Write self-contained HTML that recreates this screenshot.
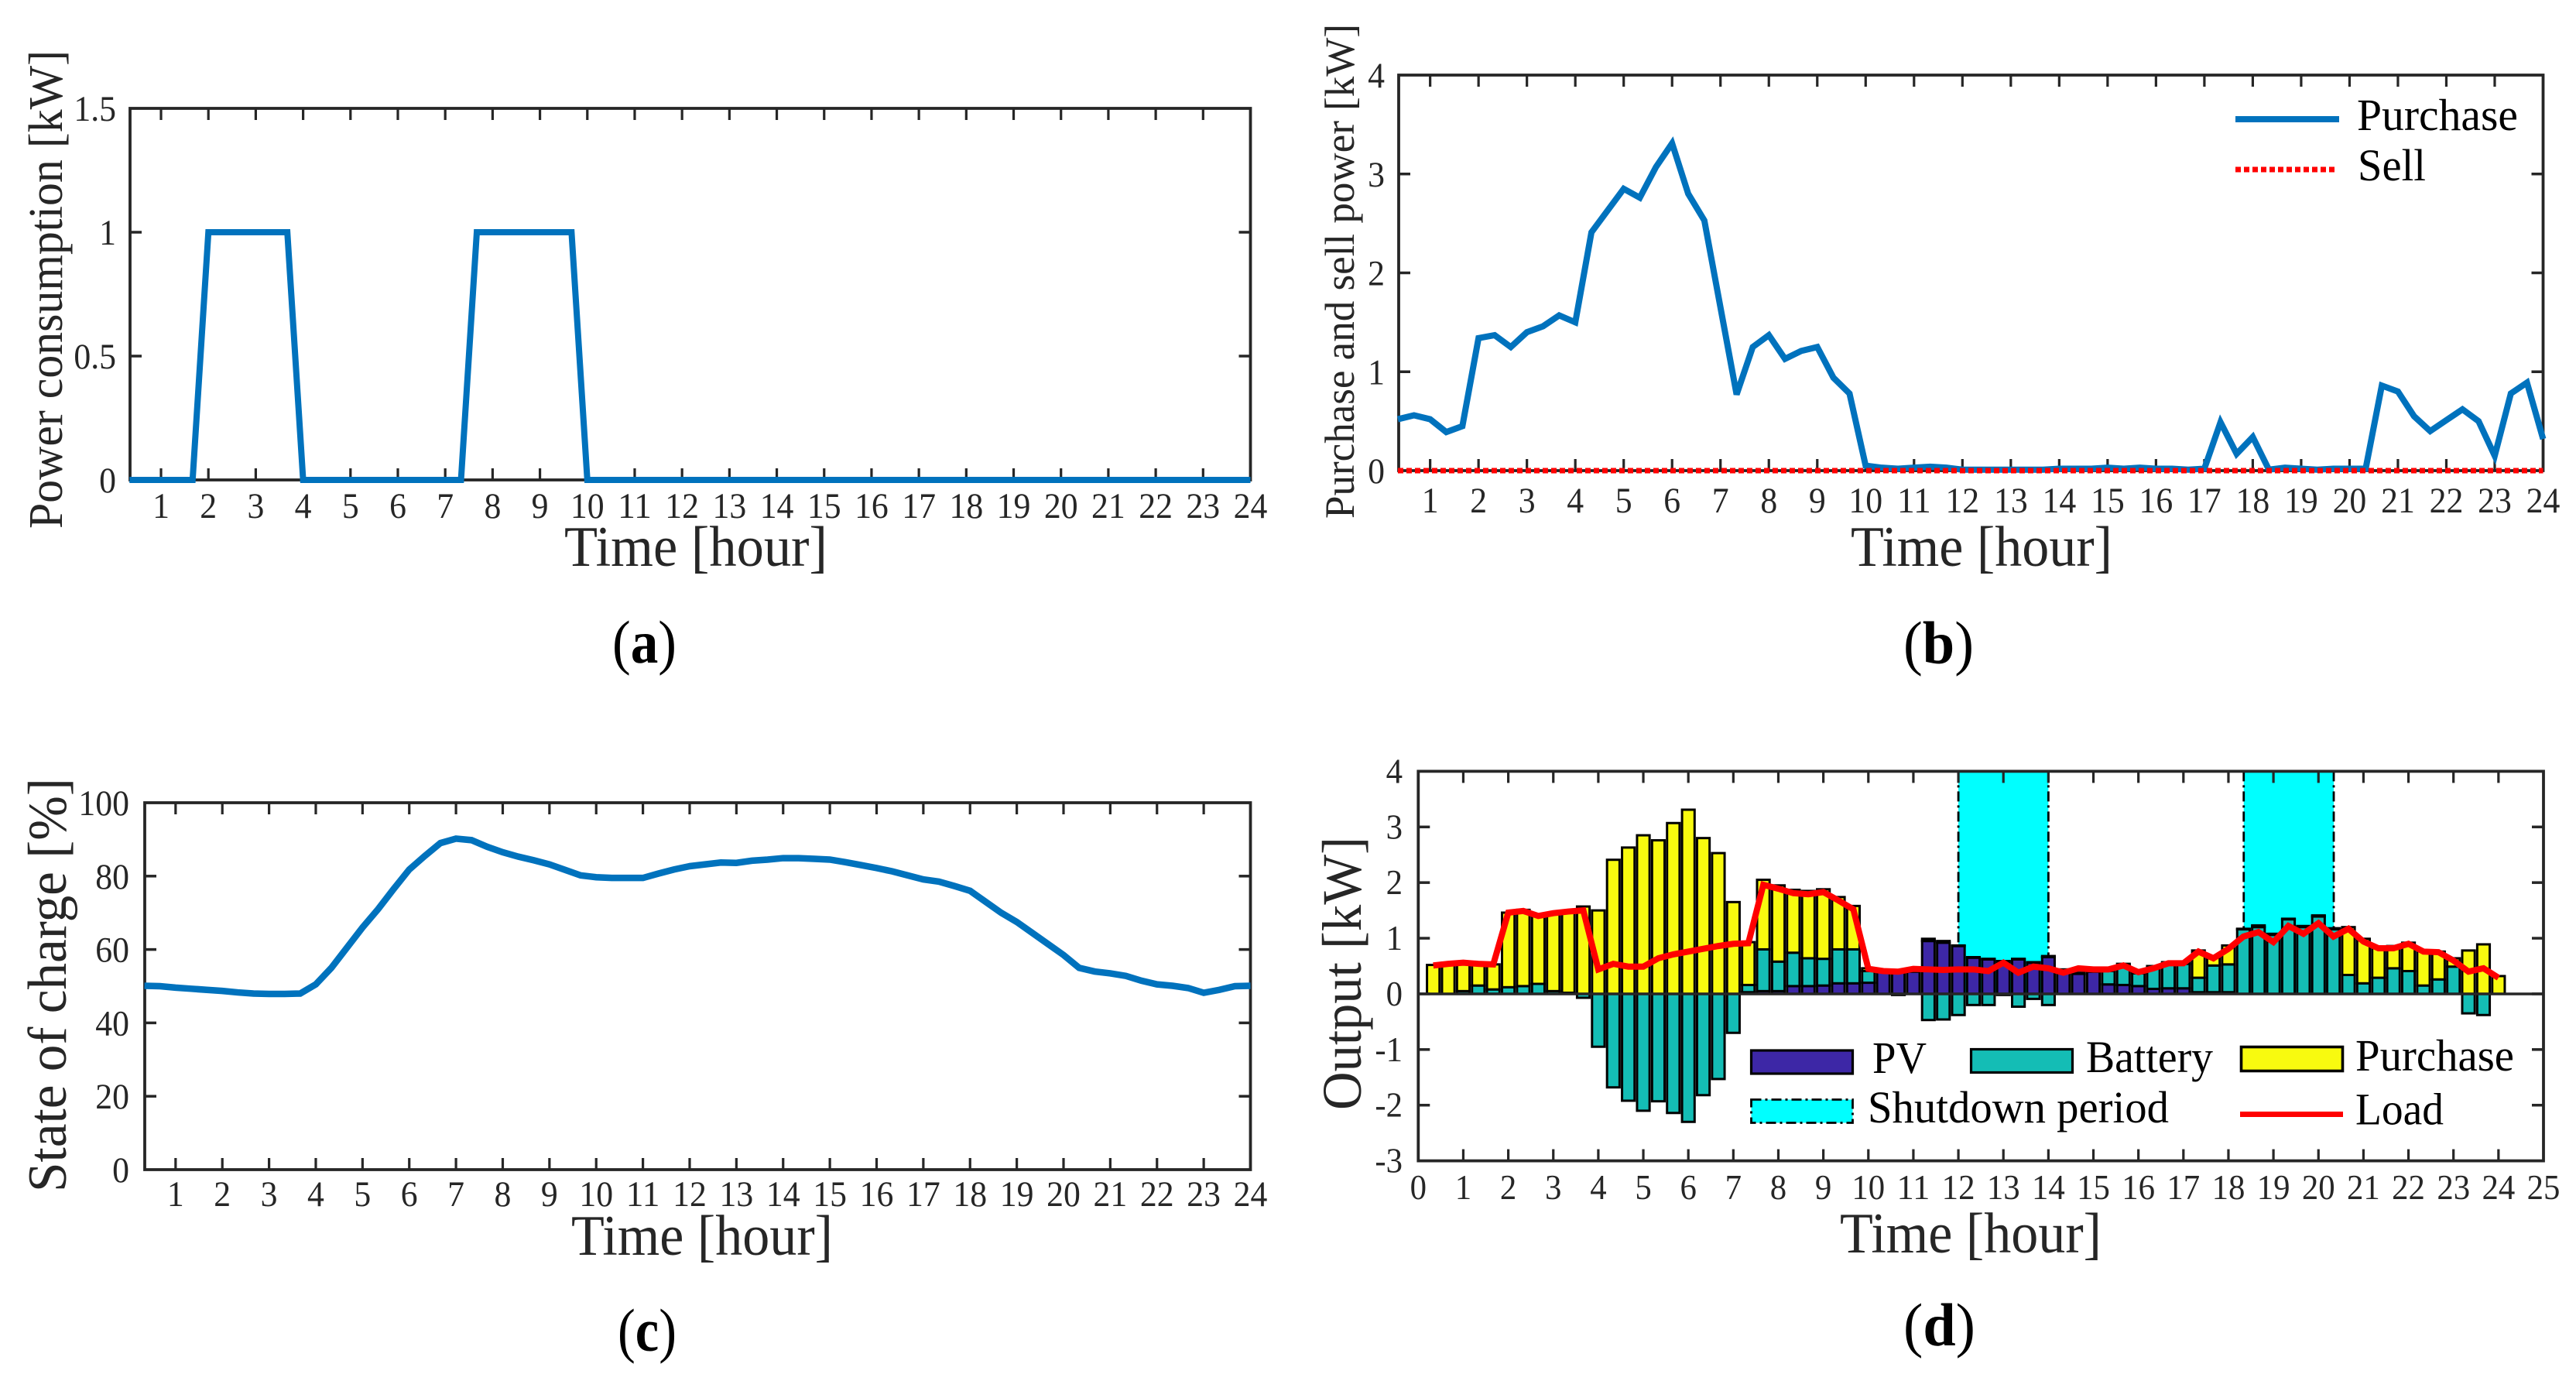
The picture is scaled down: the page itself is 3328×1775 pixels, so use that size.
<!DOCTYPE html>
<html lang="en">
<head>
<meta charset="utf-8">
<title>Household energy schedule charts</title>
<style>
html,body{margin:0;padding:0;background:#fff;width:3328px;height:1775px;overflow:hidden}
svg{display:block}
text{font-family:"Liberation Serif",serif;fill:#262626}
.lg{fill:#000;font-size:58px}
.ax{font-size:74px}
.cap{font-size:78px;fill:#000}
</style>
</head>
<body>
<svg id="fig" xmlns="http://www.w3.org/2000/svg" width="3328" height="1775" viewBox="0 0 3328 1775">
  <rect x="0" y="0" width="3328" height="1775" fill="#fff"/>
  <g id="panelA"></g>
  <g id="panelB"></g>
  <g id="panelC"></g>
  <g id="panelD"></g>

  <text font-size="62" transform="translate(80,683) rotate(-90)" textLength="618" lengthAdjust="spacingAndGlyphs">Power consumption [kW]</text>
  <text class="ax" x="729" y="731" textLength="340" lengthAdjust="spacingAndGlyphs">Time [hour]</text>
  <text class="cap" x="791" y="856" textLength="83" lengthAdjust="spacingAndGlyphs">(<tspan font-weight="bold">a</tspan>)</text>

  <text font-size="54" transform="translate(1749,670) rotate(-90)" textLength="639" lengthAdjust="spacingAndGlyphs">Purchase and sell power [kW]</text>
  <text class="ax" x="2391" y="731" textLength="338" lengthAdjust="spacingAndGlyphs">Time [hour]</text>
  <text class="cap" x="2459" y="857" textLength="91" lengthAdjust="spacingAndGlyphs">(<tspan font-weight="bold">b</tspan>)</text>

  <text font-size="71" transform="translate(85,1540) rotate(-90)" textLength="535" lengthAdjust="spacingAndGlyphs">State of charge [%]</text>
  <text class="ax" x="738" y="1621" textLength="338" lengthAdjust="spacingAndGlyphs">Time [hour]</text>
  <text class="cap" x="798" y="1745" textLength="76" lengthAdjust="spacingAndGlyphs">(<tspan font-weight="bold">c</tspan>)</text>

  <text font-size="72" transform="translate(1758,1434) rotate(-90)" textLength="353" lengthAdjust="spacingAndGlyphs">Output [kW]</text>
  <text class="ax" x="2377" y="1618" textLength="338" lengthAdjust="spacingAndGlyphs">Time [hour]</text>
  <text class="cap" x="2459" y="1738" textLength="93" lengthAdjust="spacingAndGlyphs">(<tspan font-weight="bold">d</tspan>)</text>

  <g>
    <line x1="2888" x2="3022" y1="154" y2="154" stroke="#0072BD" stroke-width="8"/>
    <text class="lg" x="3045" y="168" textLength="208" lengthAdjust="spacingAndGlyphs">Purchase</text>
    <line x1="2888" x2="3018" y1="219" y2="219" stroke="#f00" stroke-width="7" stroke-dasharray="7 4"/>
    <text class="lg" x="3046" y="233" textLength="88" lengthAdjust="spacingAndGlyphs">Sell</text>
  </g>

  <g>
    <rect x="2262.5" y="1357" width="131" height="30" fill="#3D27A6" stroke="#000" stroke-width="3.2"/>
    <text class="lg" x="2419" y="1386" textLength="70" lengthAdjust="spacingAndGlyphs">PV</text>
    <rect x="2546.5" y="1355.5" width="131" height="30" fill="#14BDB5" stroke="#000" stroke-width="3.2"/>
    <text class="lg" x="2695" y="1385" textLength="164" lengthAdjust="spacingAndGlyphs">Battery</text>
    <rect x="2895.5" y="1352.5" width="131" height="31" fill="#F8FA0F" stroke="#000" stroke-width="3.6"/>
    <text class="lg" x="3043" y="1383" textLength="205" lengthAdjust="spacingAndGlyphs">Purchase</text>
    <rect x="2262.5" y="1420.5" width="131" height="30" fill="#00FFFF" stroke="#000" stroke-width="2.8" stroke-dasharray="13 5 3 5"/>
    <text class="lg" x="2413" y="1450" textLength="389" lengthAdjust="spacingAndGlyphs">Shutdown period</text>
    <line x1="2894" x2="3027" y1="1439.5" y2="1439.5" stroke="#f00" stroke-width="7"/>
    <text class="lg" x="3043" y="1452.5" textLength="114" lengthAdjust="spacingAndGlyphs">Load</text>
  </g>
</svg>
<script>
const hourLabels = ["1","2","3","4","5","6","7","8","9","10","11","12","13","14","15","16","17","18","19","20","21","22","23","24"];
const hourLabelsD = ["0","1","2","3","4","5","6","7","8","9","10","11","12","13","14","15","16","17","18","19","20","21","22","23","24","25"];
const yTicksA = ["0","0.5","1","1.5"];
const yTicksB = ["0","1","2","3","4"];
const yTicksC = ["0","20","40","60","80","100"];
const yTicksD = ["-3","-2","-1","0","1","2","3","4"];

const powerKw = [0,0,0,0,0,1,1,1,1,1,1,0,0,0,0,0,0,0,0,0,0,0,1,1,1,1,1,1,1,0,0,0,0,0,0,0,0,0,0,0,0,0,0,0,0,0,0,0,0,0,0,0,0,0,0,0,0,0,0,0,0,0,0,0,0,0,0,0,0,0,0,0];
const purchaseKw = [.52,.56,.52,.39,.45,1.34,1.37,1.25,1.40,1.46,1.57,1.50,2.41,2.63,2.85,2.76,3.07,3.31,2.80,2.53,1.65,.77,1.25,1.37,1.13,1.21,1.25,.94,.78,.05,.03,.02,.03,.04,.03,.01,.01,.01,.01,.01,.01,.02,.02,.02,.03,.02,.03,.02,.02,.01,.02,.49,.17,.34,.01,.03,.02,.01,.02,.02,.02,.86,.80,.55,.40,.51,.62,.50,.15,.78,.89,.32];
const sellKw = [0,0,0,0,0,0,0,0,0,0,0,0,0,0,0,0,0,0,0,0,0,0,0,0,0,0,0,0,0,0,0,0,0,0,0,0,0,0,0,0,0,0,0,0,0,0,0,0,0,0,0,0,0,0,0,0,0,0,0,0,0,0,0,0,0,0,0,0,0,0,0,0];
const socPercent = [50.1,50,49.6,49.3,49,48.7,48.3,48,47.9,47.9,48,50.5,55,60.5,66,71,76.5,81.8,85.5,89,90.2,89.8,88,86.5,85.3,84.3,83.2,81.7,80.2,79.7,79.5,79.5,79.5,80.7,81.8,82.7,83.2,83.7,83.6,84.2,84.5,84.9,84.9,84.7,84.5,83.8,83,82.2,81.3,80.2,79.1,78.5,77.3,76,73,70,67.5,64.5,61.5,58.5,55,54,53.5,52.8,51.5,50.5,50.1,49.5,48.2,49,50,50.1];
const pvKw = [0,0,0,0,0,0,0,0,0,0,0,0,0,0,0,0,0,0,0,0,0,.03,.05,.05,.14,.14,.15,.19,.19,.2,.4,.4,.4,.95,.92,.86,.65,.62,.58,.62,.56,.66,.42,.36,.4,.17,.16,.14,.09,.1,.1,.03,.03,.03,0,0,0,0,0,0,0,0,0,0,0,0,0,0,0,0,0,0];
const batteryKw = [0,0,.05,.15,.08,.12,.14,.18,.05,.02,-.07,-.95,-1.68,-1.92,-2.1,-1.93,-2.14,-2.3,-1.82,-1.53,-.7,.13,.75,.53,.6,.5,.48,.61,.61,.21,0,-.02,0,-.47,-.46,-.38,-.2,-.2,-.02,-.23,-.09,-.2,0,0,0,.24,.35,.23,.39,.46,.44,.26,.48,.5,1.16,1.2,1.06,1.34,1.2,1.39,1.16,.34,.19,.29,.46,.41,.15,.26,.49,-.35,-.38,0];
const loadKw = [.51,.54,.56,.54,.53,1.46,1.49,1.4,1.45,1.48,1.5,.44,.54,.49,.49,.64,.71,.76,.81,.86,.9,.91,1.96,1.89,1.81,1.79,1.83,1.68,1.52,.45,.41,.4,.45,.44,.43,.44,.44,.41,.56,.38,.49,.46,.38,.46,.44,.44,.51,.39,.46,.55,.55,.76,.64,.81,1.03,1.11,.93,1.22,1.08,1.27,1.03,1.17,.94,.82,.82,.9,.76,.75,.6,.4,.46,.29];
const shutdownStart = [12, 18.34];
const shutdownEnd = [14, 20.34];

const NS = "http://www.w3.org/2000/svg";
function make(parent, tag, attrs, text) {
  const el = document.createElementNS(NS, tag);
  for (const k in attrs) el.setAttribute(k, attrs[k]);
  if (text !== undefined) el.textContent = text;
  parent.appendChild(el);
  return el;
}
function scale(d0, d1, r0, r1) {
  return v => r0 + (v - d0) / (d1 - d0) * (r1 - r0);
}
function slotHour(i) { return (i + 1) / 3; }
function labelLength(lab, fs) {
  let em = 0;
  for (const c of lab) em += c === "." ? 0.25 : c === "-" ? 0.333 : 0.5;
  return em * fs * 0.93;
}

function drawAxes(g, box, xs, ys, xLabels, yLabels, opts) {
  const tick = 15, col = "#262626";
  xLabels.forEach(lab => {
    const v = +lab, x = xs(v);
    const t = make(g, "text", {x: x, y: opts.xBase, "text-anchor": "middle", "font-size": opts.fs, textLength: labelLength(lab, opts.fs), lengthAdjust: "spacingAndGlyphs"}, lab);
    
    
    if (x <= box.l + 0.5 || x >= box.r - 0.5) return;
    const a = make(g, "line", {x1: x, x2: x, y1: box.b, y2: box.b - tick, stroke: col, "stroke-width": 3.2});
    
    
    const b = make(g, "line", {x1: x, x2: x, y1: box.t, y2: box.t + tick, stroke: col, "stroke-width": 3.2});
    
    
  });
  yLabels.forEach(lab => {
    const v = +lab, y = ys(v);
    const t = make(g, "text", {x: opts.yRight, y: y + opts.yShift, "text-anchor": "end", "font-size": opts.fs, textLength: labelLength(lab, opts.fs), lengthAdjust: "spacingAndGlyphs"}, lab);
    
    
    if (y <= box.t + 0.5 || y >= box.b - 0.5) return;
    const a = make(g, "line", {x1: box.l, x2: box.l + tick, y1: y, y2: y, stroke: col, "stroke-width": 3.5});
    
    
    const b = make(g, "line", {x1: box.r, x2: box.r - tick, y1: y, y2: y, stroke: col, "stroke-width": 3.5});
    
    
  });
  const frame = make(g, "rect", {x: box.l, y: box.t, width: box.r - box.l, height: box.b - box.t, fill: "none", stroke: col, "stroke-width": 3.8});
  
  
}
function drawLine(g, values, xs, ys, color, width, name, dash) {
  const pts = values.map((v, i) => xs(slotHour(i)) + "," + ys(v)).join(" ");
  const attrs = {points: pts, fill: "none", stroke: color, "stroke-width": width, "stroke-linejoin": "miter", "stroke-miterlimit": 3};
  if (dash) attrs["stroke-dasharray"] = dash;
  const el = make(g, "polyline", attrs);
  
  
}

/* Panel a */
(function () {
  const g = document.getElementById("panelA");
  const box = {l: 168, r: 1615.5, t: 140, b: 620};
  const xs = scale(0.346, 24, box.l, box.r), ys = scale(0, 1.5, box.b, box.t);
  drawAxes(g, box, xs, ys, hourLabels, yTicksA, {xBase: 669, yRight: 150, yShift: 16, fs: 47});
  drawLine(g, powerKw, xs, ys, "#0072BD", 8, "power-consumption-line");
})();

/* Panel b */
(function () {
  const g = document.getElementById("panelB");
  const box = {l: 1807, r: 3285.5, t: 97, b: 608};
  const xs = scale(0.35, 24, box.l, box.r), ys = scale(0, 4, box.b, box.t);
  drawAxes(g, box, xs, ys, hourLabels, yTicksB, {xBase: 662, yRight: 1789, yShift: 16, fs: 47});
  drawLine(g, purchaseKw, xs, ys, "#0072BD", 8, "purchase-line");
  drawLine(g, sellKw, xs, ys, "#f00", 7, "sell-line", "7 4");
})();

/* Panel c */
(function () {
  const g = document.getElementById("panelC");
  const box = {l: 187, r: 1615.5, t: 1037, b: 1511};
  const xs = scale(0.34, 24, box.l, box.r), ys = scale(0, 100, box.b, box.t);
  drawAxes(g, box, xs, ys, hourLabels, yTicksC, {xBase: 1558, yRight: 167, yShift: 16, fs: 47});
  drawLine(g, socPercent, xs, ys, "#0072BD", 8.5, "state-of-charge-line");
})();

/* Panel d */
(function () {
  const g = document.getElementById("panelD");
  const box = {l: 1832.3, r: 3286, t: 996.4, b: 1499.6};
  const xs = scale(0, 25, box.l, box.r), ys = scale(-3, 4, box.b, box.t);
  const barW = 16.2;
  shutdownStart.forEach((s, i) => {
    const x0 = xs(s), x1 = xs(shutdownEnd[i]);
    const r = make(g, "rect", {x: x0, y: box.t, width: x1 - x0, height: ys(0) - box.t, fill: "#00FFFF"});
    
    
    [x0, x1].forEach(x => {
      const e = make(g, "line", {x1: x, x2: x, y1: box.t, y2: ys(0), stroke: "#000", "stroke-width": 2.8, "stroke-dasharray": "13 5 3 5"});
      
      
    });
  });
  function bar(i, from, to, color, name) {
    if (Math.abs(to - from) < 0.001) return;
    const y0 = ys(Math.max(from, to)), y1 = ys(Math.min(from, to));
    const r = make(g, "rect", {x: xs(slotHour(i)) - barW / 2, y: y0, width: barW, height: y1 - y0, fill: color, stroke: "#000", "stroke-width": 3});
    
    
  }
  purchaseKw.forEach((p, i) => {
    const pv = pvKw[i], b = batteryKw[i];
    const batPos = Math.max(b, 0), batNeg = Math.min(b, 0);
    bar(i, 0, pv, "#3D27A6", "bar-pv");
    bar(i, pv, pv + batPos, "#14BDB5", "bar-battery");
    bar(i, pv + batPos, pv + batPos + p, "#F8FA0F", "bar-purchase");
    bar(i, 0, batNeg, "#14BDB5", "bar-battery-charging");
  });
  const zero = make(g, "line", {x1: box.l, x2: box.r, y1: ys(0), y2: ys(0), stroke: "#262626", "stroke-width": 3.5});
  
  
  drawAxes(g, box, xs, ys, hourLabelsD, yTicksD, {xBase: 1549, yRight: 1812, yShift: 15, fs: 46});
  drawLine(g, loadKw, xs, ys, "#f00", 8, "load-line");
})();
</script>
</body>
</html>
